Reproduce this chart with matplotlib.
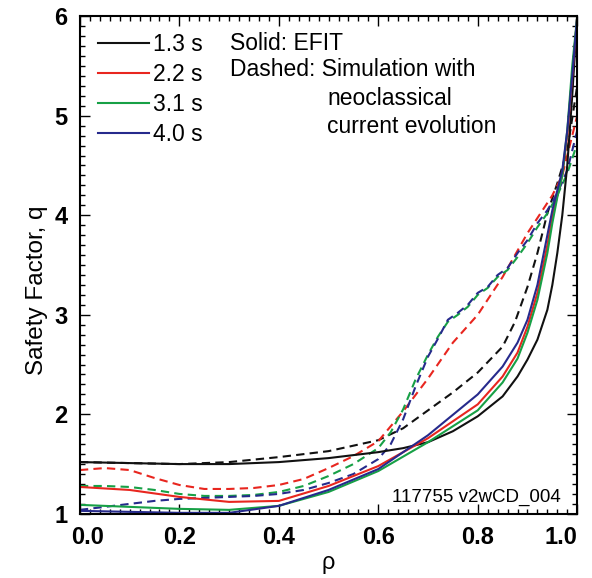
import matplotlib
matplotlib.use("Agg")
import matplotlib.pyplot as plt
import matplotlib.transforms as mtransforms
from matplotlib.lines import Line2D
from matplotlib.ticker import MultipleLocator

plt.rcParams["font.family"] = ["Liberation Sans", "DejaVu Sans"]

# EFIT (solid) q profiles
rho_efit = [0, 0.1, 0.2, 0.3, 0.4, 0.5, 0.6, 0.65, 0.7, 0.75, 0.8, 0.85, 0.88, 0.9, 0.92, 0.94,
            0.95, 0.96, 0.97, 0.98, 0.99, 1.0]
q_efit_13 = [1.52, 1.51, 1.50, 1.50, 1.52, 1.56, 1.62, 1.66, 1.72, 1.83, 1.98, 2.18, 2.38, 2.55, 2.75, 3.05,
             3.3, 3.62, 4.0, 4.5, 5.2, 6.0]

rho_efit2 = [0, 0.1, 0.2, 0.3, 0.4, 0.5, 0.6, 0.7, 0.8, 0.85, 0.88, 0.9, 0.92, 0.94, 0.95, 0.96,
             0.97, 0.98, 0.99, 1.0]
q_efit_22 = [1.27, 1.24, 1.17, 1.12, 1.13, 1.28, 1.48, 1.76, 2.10, 2.38, 2.62, 2.88, 3.22, 3.70, 3.98, 4.20,
             4.40, 4.80, 5.40, 6.0]
q_efit_31 = [1.09, 1.07, 1.05, 1.04, 1.08, 1.22, 1.43, 1.72, 2.04, 2.32, 2.56, 2.82, 3.15, 3.62, 3.92, 4.18,
             4.40, 4.85, 5.50, 6.0]
q_efit_40 = [1.03, 1.02, 1.01, 1.01, 1.08, 1.24, 1.45, 1.79, 2.20, 2.48, 2.72, 2.95, 3.30, 3.80, 4.05, 4.25,
             4.45, 4.85, 5.40, 6.0]

# simulation (dashed) q profiles
rho_sim13 = [0, 0.1, 0.2, 0.3, 0.4, 0.5, 0.6, 0.65, 0.7, 0.75, 0.8, 0.85, 0.875, 0.9, 0.92, 0.94,
             0.96, 0.98, 1.0]
q_sim_13 = [1.52, 1.51, 1.50, 1.52, 1.57, 1.63, 1.74, 1.86, 2.04, 2.22, 2.42, 2.68, 2.93, 3.28, 3.62, 4.02,
            4.32, 4.65, 5.3]

rho_sim22 = [0, 0.05, 0.1, 0.15, 0.2, 0.25, 0.3, 0.35, 0.4, 0.45, 0.5, 0.55, 0.6, 0.65, 0.7, 0.75, 0.8,
             0.85, 0.9, 0.95, 0.97, 1.0]
q_sim_22 = [1.44, 1.46, 1.44, 1.36, 1.29, 1.25, 1.25, 1.26, 1.29, 1.35, 1.46, 1.58, 1.73, 2.03, 2.36, 2.72, 3.0,
            3.38, 3.82, 4.2, 4.4, 5.0]

rho_sim = [0, 0.05, 0.1, 0.15, 0.2, 0.25, 0.3, 0.35, 0.4, 0.45, 0.5, 0.55, 0.6, 0.625, 0.65, 0.675,
           0.7, 0.72, 0.74, 0.76, 0.78, 0.8, 0.82, 0.84, 0.86, 0.88, 0.9, 0.92, 0.94, 0.96, 0.98, 1.0]
q_sim_31 = [1.28, 1.28, 1.27, 1.24, 1.20, 1.18, 1.18, 1.19, 1.22, 1.28, 1.38, 1.50, 1.66, 1.82, 2.05, 2.35,
            2.60, 2.78, 2.93, 3.00, 3.08, 3.20, 3.27, 3.38, 3.45, 3.58, 3.72, 3.88, 4.02, 4.20, 4.42, 4.72]
q_sim_40 = [1.04, 1.07, 1.10, 1.13, 1.15, 1.16, 1.17, 1.18, 1.20, 1.24, 1.31, 1.40, 1.55, 1.70, 1.95, 2.28,
            2.58, 2.76, 2.95, 3.02, 3.10, 3.22, 3.28, 3.40, 3.47, 3.62, 3.75, 3.92, 4.05, 4.22, 4.45, 4.85]

times = ["1.3 s", "2.2 s", "3.1 s", "4.0 s"]
colors = ["#111111", "#e8261f", "#17a046", "#262a8c"]
xticks = [0.0, 0.2, 0.4, 0.6, 0.8, 1.0]

fig = plt.figure(figsize=(5.92, 5.78), dpi=100)
ax = fig.add_axes([0.135, 0.111, 0.84, 0.861])

dash = (0, (4, 2.5))
lw = 1.5
ax.plot(rho_sim13, q_sim_13, color=colors[0], lw=lw, ls=dash)
ax.plot(rho_sim22, q_sim_22, color=colors[1], lw=lw, ls=dash)
ax.plot(rho_sim, q_sim_31, color=colors[2], lw=lw, ls=dash)
ax.plot(rho_sim, q_sim_40, color=colors[3], lw=lw, ls=dash)

ax.plot(rho_efit, q_efit_13, color=colors[0], lw=lw)
ax.plot(rho_efit2, q_efit_22, color=colors[1], lw=lw)
ax.plot(rho_efit2, q_efit_31, color=colors[2], lw=lw)
ax.plot(rho_efit2, q_efit_40, color=colors[3], lw=lw)

ax.set_xticks(xticks)
ax.set_xticklabels([f"{v:.1f}" for v in xticks])
ax.xaxis.set_minor_locator(MultipleLocator(0.02))
ax.yaxis.set_major_locator(MultipleLocator(1))
ax.yaxis.set_minor_locator(MultipleLocator(0.1))
ax.set_xlim(0, 1)
ax.set_ylim(1, 6)
ax.tick_params(which="both", direction="in", top=True, right=True, width=1)
ax.tick_params(which="major", length=7)
ax.tick_params(which="minor", length=3.5)
ax.tick_params(axis="x", pad=9)
ax.tick_params(axis="y", pad=9)
for lab in ax.get_xticklabels() + ax.get_yticklabels():
    lab.set_fontsize(17)
    lab.set_fontweight("bold")

# nudge the end labels inward like the original figure
shift_r = mtransforms.ScaledTranslation(8 / 100, 0, fig.dpi_scale_trans)
for lab in ax.xaxis.get_majorticklabels()[:1]:
    lab.set_transform(lab.get_transform() + shift_r)
ax.get_xticklabels()[-1].set_horizontalalignment("right")

for sp in ax.spines.values():
    sp.set_linewidth(1.5)

ax.set_xlabel("ρ", fontsize=17, labelpad=2)
ax.set_ylabel("Safety Factor, q", fontsize=17.5)
ax.yaxis.set_label_coords(-0.065, 0.45)

handles = [Line2D([], [], color=c, lw=lw) for c in colors]
ax.legend(handles, times, loc="upper left", bbox_to_anchor=(0.037, 0.966), frameon=False,
          fontsize=16.5, handlelength=2.2, handletextpad=0.2, labelspacing=0.3,
          borderpad=0, borderaxespad=0)

tkw = dict(transform=ax.transAxes, fontsize=16.5, va="center", ha="left")
ax.text(0.302, 0.946, "Solid: EFIT", **tkw)
ax.text(0.302, 0.892, "Dashed: Simulation with", **tkw)
ax.text(0.497, 0.835, "neoclassical", **tkw)
ax.text(0.497, 0.779, "current evolution", **tkw)
ax.text(0.966, 0.034, "117755 v2wCD_004", transform=ax.transAxes, fontsize=13.5,
        va="center", ha="right")

fig.savefig("out.png", dpi=100)
